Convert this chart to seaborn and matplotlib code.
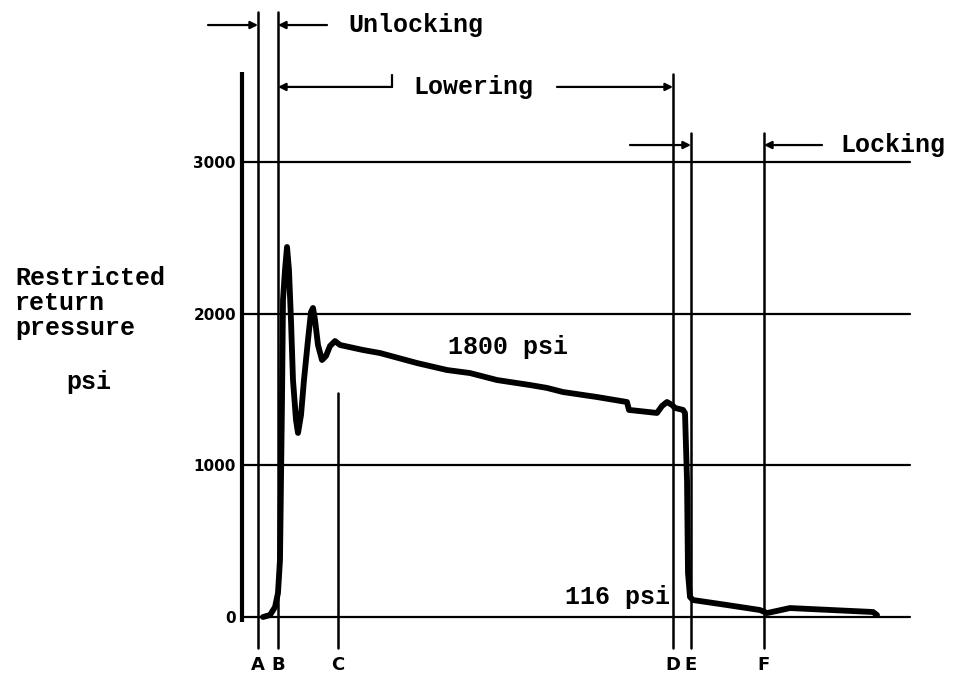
import matplotlib
matplotlib.use("Agg")
import matplotlib.pyplot as plt
import seaborn as sns
import pandas as pd

# ---- data (time in arbitrary units, pressure in psi) ----
time = [0.313, 0.418, 0.493, 0.537, 0.567, 0.597, 0.612, 0.642, 0.672, 0.701,
        0.731, 0.761, 0.806, 0.836, 0.881, 0.925, 0.985, 1.030, 1.060, 1.090,
        1.134, 1.194, 1.254, 1.313, 1.388, 1.463, 1.806, 2.060, 2.612, 3.060,
        3.403, 3.806, 4.299, 4.552, 4.791, 5.299, 5.746, 5.776, 6.194, 6.269,
        6.343, 6.418, 6.463, 6.582, 6.612, 6.642, 6.657, 6.687, 6.731, 7.239,
        7.731, 7.836, 8.179, 9.418, 9.478]
pressure = [0, 13, 66, 158, 376, 1430, 2090, 2288, 2439, 2288,
            1958, 1562, 1299, 1213, 1332, 1562, 1826, 2011, 2037, 1958,
            1793, 1694, 1721, 1786, 1819, 1793, 1760, 1740, 1674, 1628,
            1608, 1562, 1529, 1510, 1483, 1450, 1417, 1365, 1345, 1391,
            1417, 1398, 1378, 1365, 1345, 903, 290, 132, 112, 79,
            46, 26, 59, 33, 13]

grid_levels = [0, 1000, 2000, 3000]
grid_labels = ["0", "1000", "2000", "3000"]

event_names = ["A", "B", "C", "D", "E", "F"]
event_times = [0.239, 0.537, 1.433, 6.433, 6.701, 7.791]
event_tops = [3988, 3988, 1477, 3579, 3190, 3190]

# ---- figure ----
sns.set_theme(style="white")
plt.rcParams["font.family"] = ["Liberation Mono", "DejaVu Sans"]

fig = plt.figure(figsize=(9.54, 6.78), dpi=100)
ax = fig.add_axes([0, 0, 1, 1])
ax.set_xlim(-3.612, 10.627)
ax.set_ylim(-402, 4067)
ax.axis("off")

K = "black"
mono = dict(family="Liberation Mono", weight="bold", size=18, color=K)
narrow = dict(family=["Liberation Sans Narrow", "DejaVu Sans"], weight="bold", color=K)

# axis line
ax.plot([0, 0], [-33, 3593], color=K, lw=3.0, solid_capstyle="butt")
# horizontal grid lines
for lv, lab in zip(grid_levels, grid_labels):
    ax.plot([0, 9.97], [lv, lv], color=K, lw=1.6)
    ax.text(-0.09, lv - 10, lab, ha="right", va="center", size=11, **narrow)

# event vertical lines and letters
for name, t, top in zip(event_names, event_times, event_tops):
    ax.plot([t, t], [-204, top], color=K, lw=1.8)
    ax.text(t, -318, name, ha="center", va="center", size=13, **narrow)

# pressure trace
df = pd.DataFrame({"time": time, "pressure": pressure})
sns.lineplot(data=df, x="time", y="pressure", ax=ax, color=K, lw=4.2,
             sort=False, estimator=None)
ax.set_xlabel("")
ax.set_ylabel("")

# ---- phase annotations ----
def arrow(x_from, x_to, y):
    ax.annotate("", xy=(x_to, y), xytext=(x_from, y),
                arrowprops=dict(arrowstyle="-|>", color=K, lw=1.6,
                                mutation_scale=11, shrinkA=0, shrinkB=0))

A, B, C, D, E, F = event_times
# Unlocking
arrow(-0.507, A, 3902)
arrow(1.269, B, 3902)
ax.text(1.582, 3902, "Unlocking", ha="left", va="center", **mono)
# Lowering
arrow(2.239, B, 3494)
ax.plot([2.239, 2.239], [3494, 3573], color=K, lw=1.6)
ax.text(2.552, 3494, "Lowering", ha="left", va="center", **mono)
arrow(4.701, D, 3494)
# Locking
arrow(5.791, E, 3111)
arrow(8.657, F, 3111)
ax.text(8.925, 3111, "Locking", ha="left", va="center", **mono)

# values
ax.text(3.075, 1780, "1800 psi", ha="left", va="center", **mono)
ax.text(4.821, 132, "116 psi", ha="left", va="center", **mono)

# y label
ax.text(-3.388, 2070, "Restricted\nreturn\npressure", ha="left", va="center",
        linespacing=1.03, **mono)
ax.text(-2.28, 1547, "psi", ha="center", va="center", **mono)

fig.savefig("out.png", dpi=100, facecolor="white")
